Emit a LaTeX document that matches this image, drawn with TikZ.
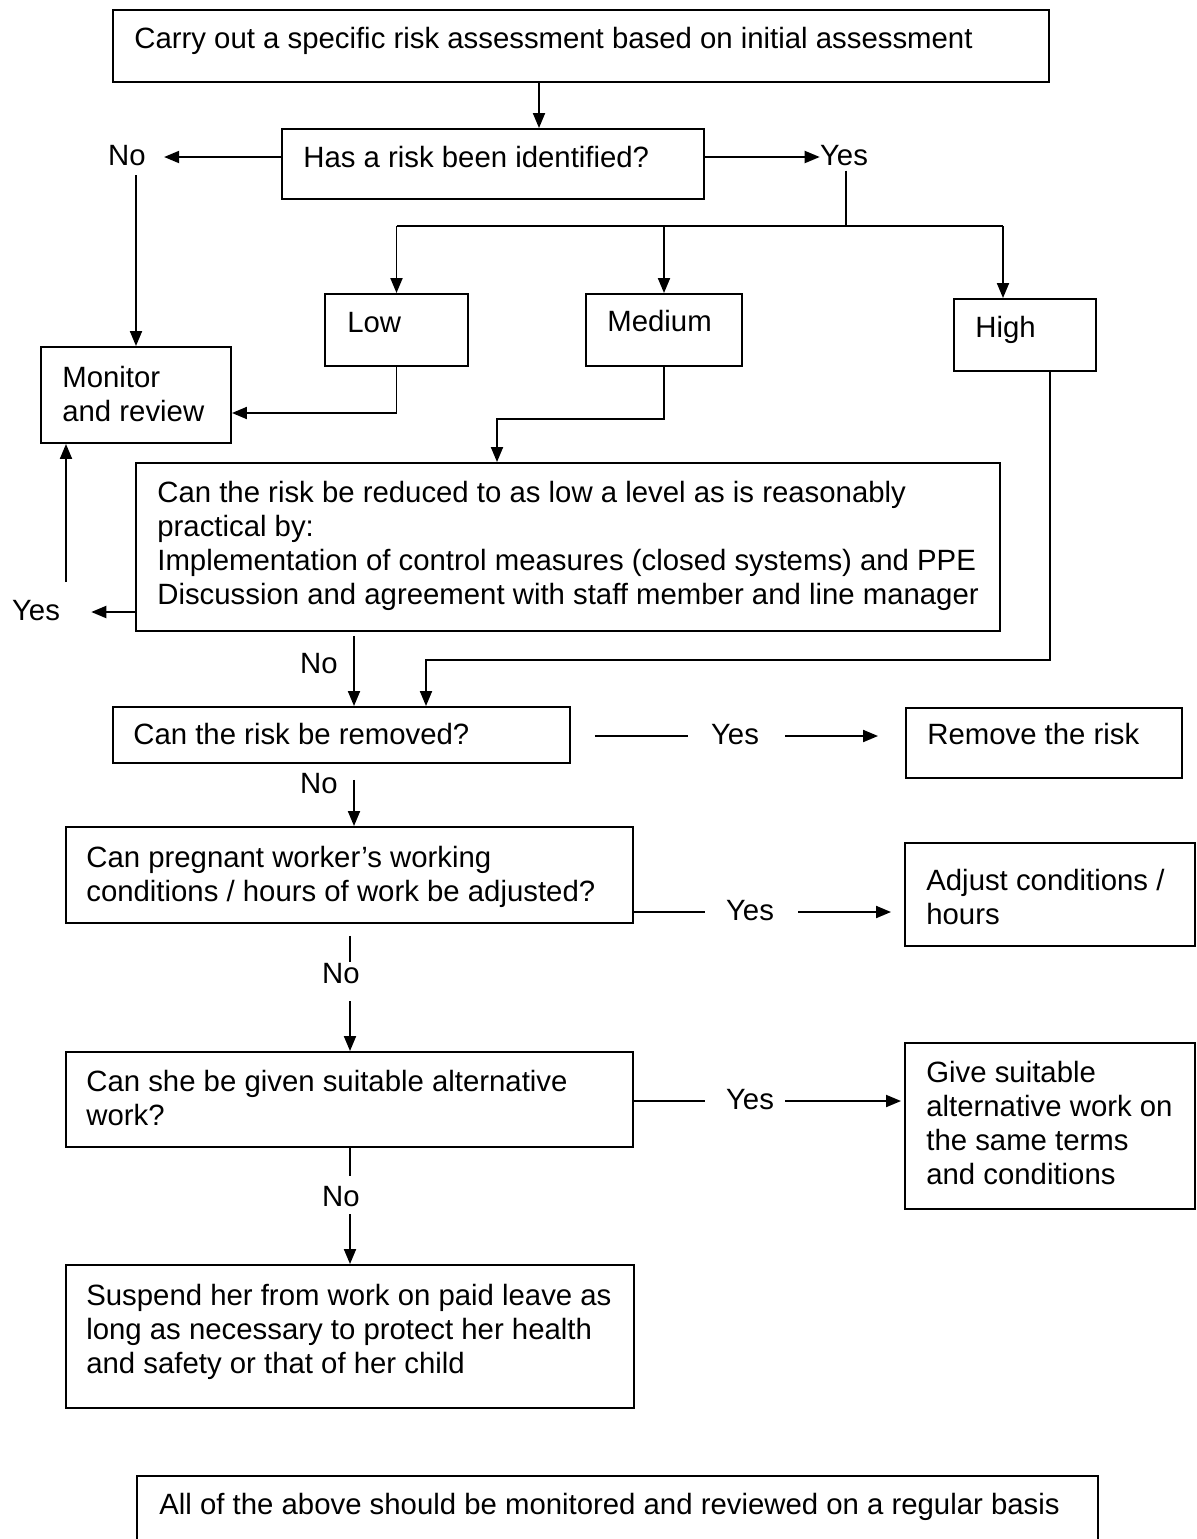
\documentclass[tikz,border=0pt]{standalone}
\usepackage{fontspec}
\setmainfont{Liberation Sans}
\usetikzlibrary{arrows.meta,fit}

\tikzset{
  box/.style={draw, line width=1.1pt, inner sep=0pt},
  txt/.style={anchor=west, inner sep=0pt, text height=0.925em, text depth=0.005em},
  mtxt/.style={anchor=north west, inner sep=0pt, align=left},
  lbl/.style={inner sep=0pt, text height=0.925em, text depth=0.005em},
  conn/.style={line width=1.1pt},
  tick/.style={line width=0.6pt},
  arr/.style={line width=1.1pt, -{Triangle[length=0.3cm,width=0.24cm]}}
}

\begin{document}
\begin{tikzpicture}[x=0.02cm, y=-0.02cm, font=\fontsize{16.7}{19.3}\selectfont]
  \fill[white] (0,0) rectangle (1197,1539);
  \useasboundingbox (0,0) rectangle (1197,1539);

  % Assessment and risk levels
  \node[box, fit={(113,10) (1049,82)}] (start) {};
  \node[txt] (starttxt) at (134,40) {Carry out a specific risk assessment based on initial assessment};
  \node[box, fit={(282,129) (704,199)}] (risk) {};
  \node[txt] (risktxt) at (303,159) {Has a risk been identified?};
  \node[box, fit={(325,294) (468,366)}] (low) {};
  \node[txt] (lowtxt) at (347,324) {Low};
  \node[box, fit={(586,294) (742,366)}] (medium) {};
  \node[txt] (mediumtxt) at (607,323) {Medium};
  \node[box, fit={(954,299) (1096,371)}] (high) {};
  \node[txt] (hightxt) at (975,329) {High};
  \node[box, fit={(41,347) (231,443)}] (monitor) {};
  \node[mtxt] (monitortxt) at (62,366) {Monitor\\and review};
  \node[box, fit={(136,463) (1000,631)}] (reduce) {};
  \node[mtxt] (reducetxt) at (157,481) {Can the risk be reduced to as low a level as is reasonably\\practical by:\\Implementation of control measures (closed systems) and PPE\\Discussion and agreement with staff member and line manager};

  % Actions
  \node[box, fit={(113,707) (570,763)}] (remq) {};
  \node[txt] (remqtxt) at (133,736) {Can the risk be removed?};
  \node[box, fit={(906,708) (1182,778)}] (remove) {};
  \node[txt] (removetxt) at (927,736) {Remove the risk};
  \node[box, fit={(66,827) (633,923)}] (preg) {};
  \node[mtxt] (pregtxt) at (86,846) {Can pregnant worker’s working\\conditions / hours of work be adjusted?};
  \node[box, fit={(905,843) (1195,946)}] (adjust) {};
  \node[mtxt] (adjusttxt) at (926,869) {Adjust conditions /\\hours};
  \node[box, fit={(66,1052) (633,1147)}] (alt) {};
  \node[mtxt] (alttxt) at (86,1070) {Can she be given suitable alternative\\work?};
  \node[box, fit={(905,1043) (1195,1209)}] (give) {};
  \node[mtxt] (givetxt) at (926,1061) {Give suitable\\alternative work on\\the same terms\\and conditions};
  \node[box, fit={(66,1265) (634,1408)}] (suspend) {};
  \node[mtxt] (suspendtxt) at (86,1284) {Suspend her from work on paid leave as\\long as necessary to protect her health\\and safety or that of her child};
  \node[box, fit={(137,1476) (1098,1560)}] (review) {};
  \node[txt] (reviewtxt) at (159,1506) {All of the above should be monitored and reviewed on a regular basis};

  % Yes / No labels
  \node[lbl] (noA) at (127,157) {No};
  \node[lbl] (yesA) at (844,157) {Yes};
  \node[lbl] (yesB) at (36,612) {Yes};
  \node[lbl] (noB) at (319,665) {No};
  \node[lbl] (yesC) at (735,736) {Yes};
  \node[lbl] (noC) at (319,785) {No};
  \node[lbl] (yesD) at (750,912) {Yes};
  \node[lbl] (noD) at (341,975) {No};
  \node[lbl] (yesE) at (750,1101) {Yes};
  \node[lbl] (noE) at (341,1198) {No};

  \coordinate (fork) at (846,226);
  \coordinate (highin) at (1003,226);
  \coordinate (medbend) at (497,419);
  \coordinate (highbend) at (426,660);
  \coordinate (yesup) at (66,582);

  % Top part
  \draw[arr] (start.south -| 539,0) -- (risk.north -| 539,0);
  \draw[arr, shorten >=0.36cm] (risk.west |- noA) -- (noA.east);
  \draw[arr] (risk.east |- yesA) -- (yesA.west);
  \draw[conn, shorten <=0.1cm] (yesA.south -| fork) -- (fork);
  \draw[conn] (low.north |- fork) -- (highin);
  \draw[arr] (low.north |- fork) -- (low.north);
  \draw[arr] (medium.north |- fork) -- (medium.north);
  \draw[arr] (highin) -- (high.north -| highin);
  \draw[arr, shorten <=0.19cm] (noA.south -| monitor.north) -- (monitor.north);

  % Middle part
  \draw[arr] (low.south) |- ([yshift=-0.36cm]monitor.east);
  \draw[arr] (medium.south) |- (medbend) -- (reduce.north -| medbend);
  \draw[arr, shorten >=0.62cm] (reduce.west |- yesB) -- (yesB.east);
  \draw[arr] (yesup) -- (monitor.south -| yesup);
  \draw[arr] (high.south -| 1050,0) |- (highbend) -- (remq.north -| highbend);
  \draw[arr, shorten <=0.08cm] (reduce.south -| 354,0) -- (remq.north -| 354,0);

  % Lower part
  \draw[conn, shorten <=0.48cm, shorten >=0.46cm] (remq.east |- yesC) -- (yesC.west);
  \draw[arr, shorten <=0.52cm, shorten >=0.54cm] (yesC.east) -- (remove.west |- yesC);
  \draw[arr, shorten <=0.32cm] (remq.south -| 354,0) -- (preg.north -| 354,0);
  \draw[conn, shorten >=0.42cm] (preg.east |- yesD) -- (yesD.west);
  \draw[arr, shorten <=0.48cm, shorten >=0.26cm] (yesD.east) -- (adjust.west |- yesD);
  \draw[tick, shorten <=0.24cm, shorten >=0.09cm] (preg.south -| 350,0) -- (noD.north -| 350,0);
  \draw[arr, shorten <=0.35cm] (noD.south -| 350,0) -- (alt.north -| 350,0);
  \draw[conn, shorten >=0.42cm] (alt.east |- yesE) -- (yesE.west);
  \draw[arr, shorten <=0.22cm, shorten >=0.06cm] (yesE.east) -- (give.west |- yesE);
  \draw[tick, shorten >=0.27cm] (alt.south -| 350,0) -- (noE.north -| 350,0);
  \draw[arr, shorten <=0.15cm] (noE.south -| 350,0) -- (suspend.north -| 350,0);
\end{tikzpicture}
\end{document}
